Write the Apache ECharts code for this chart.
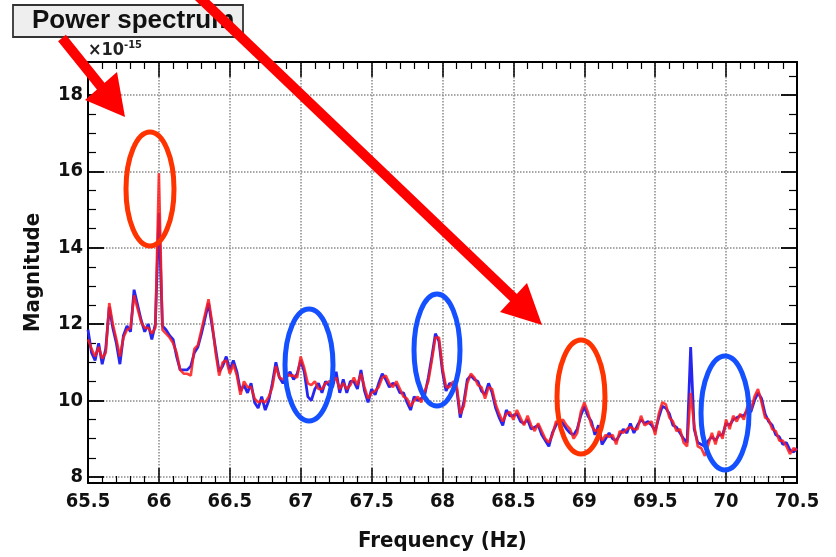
<!DOCTYPE html>
<html>
<head>
<meta charset="utf-8">
<script src="https://cdn.jsdelivr.net/npm/echarts@6/dist/echarts.min.js"></script>
<style>
  html, body { margin: 0; padding: 0; background: #ffffff; }
  #chart { width: 836px; height: 557px; }
</style>
</head>
<body>
<div id="chart"></div>
<script>
// Frequency bins (Hz): evenly spaced spectrum bins
const FREQ_START = 65.5;
const FREQ_STEP = 0.025;
const BIN_COUNT = 201;

// Magnitude (x1e-15) of the two measured spectra, one value per bin
const blueSpectrum = [
  11.85, 11.25, 11.05, 11.5, 10.95, 11.35, 12.45, 11.9, 11.5, 10.95,
  11.7, 11.95, 11.8, 12.9, 12.5, 12.1, 11.8, 12.0, 11.6, 12.0,
  14.9, 11.95, 11.85, 11.7, 11.6, 11.15, 10.8, 10.8, 10.8, 10.9,
  11.25, 11.4, 11.75, 12.15, 12.55, 11.95, 11.35, 10.75, 10.9, 11.15,
  10.8, 11.05, 10.75, 10.25, 10.4, 10.2, 10.45, 9.95, 9.8, 10.1,
  9.75, 10.0, 10.45, 11.0, 10.6, 10.45, 10.6, 10.75, 10.55, 10.7,
  11.05, 10.75, 10.1, 10.0, 10.3, 10.45, 10.2, 10.5, 10.4, 10.35,
  10.75, 10.2, 10.55, 10.2, 10.5, 10.5, 10.3, 10.8, 10.25, 9.95,
  10.3, 10.15, 10.45, 10.7, 10.55, 10.35, 10.45, 10.4, 10.2, 10.2,
  9.95, 9.75, 10.1, 10.0, 10.05, 10.15, 10.6, 11.15, 11.75, 11.55,
  10.75, 10.25, 10.45, 10.4, 10.3, 9.55, 9.95, 10.55, 10.65, 10.55,
  10.5, 10.25, 10.15, 10.45, 10.2, 9.8, 9.55, 9.35, 9.75, 9.6,
  9.6, 9.65, 9.45, 9.4, 9.5, 9.25, 9.3, 9.35, 9.1, 8.95,
  8.8, 9.15, 9.35, 9.5, 9.4, 9.25, 9.15, 9.1, 9.25, 9.6,
  9.85, 9.6, 9.45, 9.1, 9.35, 8.85, 9.0, 9.15, 9.0, 8.95,
  9.1, 9.25, 9.15, 9.4, 9.15, 9.35, 9.5, 9.4, 9.45, 9.35,
  9.2, 9.55, 9.85, 9.8, 9.65, 9.35, 9.3, 9.15, 9.0, 8.9,
  11.4, 9.25, 8.9, 8.85, 8.8, 8.95, 9.05, 8.95, 9.1, 9.1,
  9.4, 9.35, 9.5, 9.55, 9.6, 9.6, 9.75, 9.7, 10.0, 10.2,
  10.05, 9.65, 9.45, 9.35, 9.1, 9.05, 8.85, 8.9, 8.7, 8.65,
  8.75
];

const redSpectrum = [
  11.6, 11.35, 11.15, 11.4, 11.1, 11.25, 12.55, 12.0, 11.6, 11.15,
  11.65, 11.85, 11.9, 12.75, 12.4, 12.05, 11.9, 11.9, 11.75, 11.9,
  15.95, 11.85, 11.75, 11.65, 11.5, 11.25, 10.8, 10.7, 10.7, 10.65,
  11.35, 11.45, 11.85, 12.25, 12.65, 12.05, 11.25, 10.65, 11.0, 11.05,
  10.7, 10.95, 10.65, 10.15, 10.5, 10.35, 10.35, 10.05, 9.95, 10.0,
  9.95, 10.1, 10.35, 10.9, 10.6, 10.55, 10.7, 10.65, 10.65, 10.6,
  11.15, 10.85, 10.45, 10.4, 10.5, 10.3, 10.3, 10.45, 10.5, 10.5,
  10.6, 10.3, 10.45, 10.3, 10.4, 10.6, 10.4, 10.7, 10.35, 10.05,
  10.2, 10.25, 10.35, 10.6, 10.65, 10.45, 10.35, 10.5, 10.3, 10.1,
  10.05, 9.85, 10.0, 10.1, 9.95, 10.25, 10.5, 11.05, 11.65, 11.65,
  10.85, 10.35, 10.35, 10.5, 10.4, 9.65, 9.85, 10.45, 10.7, 10.6,
  10.4, 10.35, 10.05, 10.35, 10.3, 9.9, 9.65, 9.45, 9.65, 9.7,
  9.5, 9.75, 9.55, 9.35, 9.6, 9.35, 9.2, 9.4, 9.2, 9.0,
  8.9, 9.1, 9.45, 9.45, 9.5, 9.35, 9.25, 9.0, 9.15, 9.7,
  9.95, 9.7, 9.35, 9.2, 9.25, 8.95, 9.1, 9.05, 9.1, 8.85,
  9.2, 9.15, 9.25, 9.3, 9.25, 9.25, 9.6, 9.35, 9.4, 9.45,
  9.1, 9.65, 9.95, 9.9, 9.55, 9.45, 9.2, 9.25, 8.9, 8.8,
  10.2, 9.35, 8.8, 8.75, 8.55, 8.85, 9.15, 8.85, 9.2, 9.0,
  9.5, 9.25, 9.6, 9.45, 9.65, 9.5, 9.85, 9.75, 10.1, 10.3,
  9.95, 9.55, 9.5, 9.25, 9.2, 8.95, 8.95, 8.8, 8.6, 8.75,
  8.7
];

// Axis ranges and tick values
const xRange = [65.5, 70.5];
const yRange = [7.84, 18.86];
const yMajorTicks = [8, 10, 12, 14, 16, 18];
const yMinorTicks = [8.5, 9, 9.5, 10.5, 11, 11.5, 12.5, 13, 13.5, 14.5, 15, 15.5, 16.5, 17, 17.5, 18.5];

const freqs = [];
for (let i = 0; i < BIN_COUNT; i++) {
  freqs.push(+(FREQ_START + i * FREQ_STEP).toFixed(3));
}
const pairs = vals => vals.map((v, i) => [freqs[i], v]);

const FONT = "'Liberation Sans Narrow', 'DejaVu Sans Condensed', 'Liberation Sans', sans-serif";
const gridStyle = { type: 'dotted', color: '#8a8a8a', width: 1.5 };

const chart = echarts.init(document.getElementById('chart'), null, { renderer: 'canvas' });

function xAx(pos, labels) {
  return {
    type: 'value', position: pos, min: xRange[0], max: xRange[1], interval: 0.5,
    axisLine: { show: true, onZero: false, lineStyle: { color: '#000', width: 2 } },
    axisTick: { show: true, inside: true, length: 15, lineStyle: { color: '#000', width: 1.5 } },
    minorTick: { show: true, splitNumber: 5, length: 7, lineStyle: { color: '#000', width: 1.2 } },
    axisLabel: labels ? { show: true, margin: 9, color: '#111', fontSize: 20, fontWeight: 'bold', fontFamily: FONT } : { show: false },
    splitLine: { show: labels, lineStyle: gridStyle },
    name: labels ? 'Frequency (Hz)' : '',
    nameLocation: 'middle', nameGap: 47,
    nameTextStyle: { color: '#111', fontSize: 22, fontWeight: 'bold', fontFamily: FONT }
  };
}

function yAx(pos, ticks, len, labels) {
  return {
    type: 'value', position: pos, min: yRange[0], max: yRange[1],
    axisLine: { show: labels || pos === 'right' ? true : false, onZero: false, lineStyle: { color: '#000', width: 2 } },
    axisTick: { show: true, inside: true, length: len, customValues: ticks, lineStyle: { color: '#000', width: len > 10 ? 1.8 : 1.2 } },
    axisLabel: labels ? { show: true, margin: 5, customValues: ticks, color: '#111', fontSize: 20, fontWeight: 'bold', fontFamily: FONT } : { show: false },
    splitLine: { show: labels, lineStyle: gridStyle },
    name: labels ? 'Magnitude' : '',
    nameLocation: 'middle', nameGap: 44, nameRotate: 90,
    nameTextStyle: { color: '#111', fontSize: 22, fontWeight: 'bold', fontFamily: FONT }
  };
}

// Hand-drawn style annotations: arrows and ellipses around spectral lines
function arrow(x0, y0, bx, by, p1, p2, tip) {
  return [
    { type: 'line', z: 100, shape: { x1: x0, y1: y0, x2: bx, y2: by }, style: { stroke: '#ff0000', lineWidth: 10 } },
    { type: 'polygon', z: 100, shape: { points: [p1, p2, tip] }, style: { fill: '#ff0000' } }
  ];
}
function ring(cx, cy, rx, ry, color) {
  return { type: 'ellipse', z: 100, shape: { cx: cx, cy: cy, rx: rx, ry: ry }, style: { fill: null, stroke: color, lineWidth: 5 } };
}

const ORANGE = '#ff3300';
const BLUE = '#1450ff';

chart.setOption({
  animation: false,
  backgroundColor: '#ffffff',
  grid: { left: 88, top: 62, right: 39, bottom: 70, containLabel: false },
  xAxis: [xAx('bottom', true), xAx('top', false)],
  yAxis: [
    yAx('left', yMajorTicks, 16, true),
    yAx('left', yMinorTicks, 8, false),
    yAx('right', yMajorTicks, 16, false),
    yAx('right', yMinorTicks, 8, false)
  ],
  series: [
    { name: 'blue', type: 'line', xAxisIndex: 0, yAxisIndex: 0, data: pairs(blueSpectrum), showSymbol: false, smooth: false,
      lineStyle: { color: '#2626f0', width: 2.8 }, z: 3 },
    { name: 'red', type: 'line', xAxisIndex: 0, yAxisIndex: 0, data: pairs(redSpectrum), showSymbol: false, smooth: false,
      lineStyle: { color: '#ff1a1a', width: 2.6, opacity: 0.85 }, z: 4 }
  ],
  graphic: [
    { type: 'rect', z: 90, shape: { x: 13, y: 5, width: 230, height: 32 }, style: { fill: '#eeeeee', stroke: '#333333', lineWidth: 1.8 } },
    { type: 'text', z: 91, x: 32, y: 21, style: { text: 'Power spectrum', fill: '#111', font: "bold 26px 'Liberation Sans', Arial, sans-serif", textVerticalAlign: 'middle' } },
    { type: 'text', z: 91, x: 88, y: 50, style: {
        text: '{a|×10}{b|-15}', fill: '#222', textVerticalAlign: 'middle',
        rich: { a: { fontSize: 18, fontWeight: 'bold', fontFamily: FONT, fill: '#222' },
                b: { fontSize: 11, fontWeight: 'bold', fontFamily: FONT, fill: '#222', verticalAlign: 'top', padding: [0, 0, 10, 0] } } } },
    ...arrow(62, 38, 103, 89, [85, 100], [117, 72], [125, 117]),
    ...arrow(198, -4, 515, 299, [500, 312], [527, 283], [542, 325]),
    ring(150, 189, 24, 57, ORANGE),
    ring(309, 365, 24, 56, BLUE),
    ring(437, 350, 23, 56, BLUE),
    ring(581, 397, 24, 57, ORANGE),
    ring(725, 413, 24, 57, BLUE)
  ]
});
</script>
</body>
</html>
